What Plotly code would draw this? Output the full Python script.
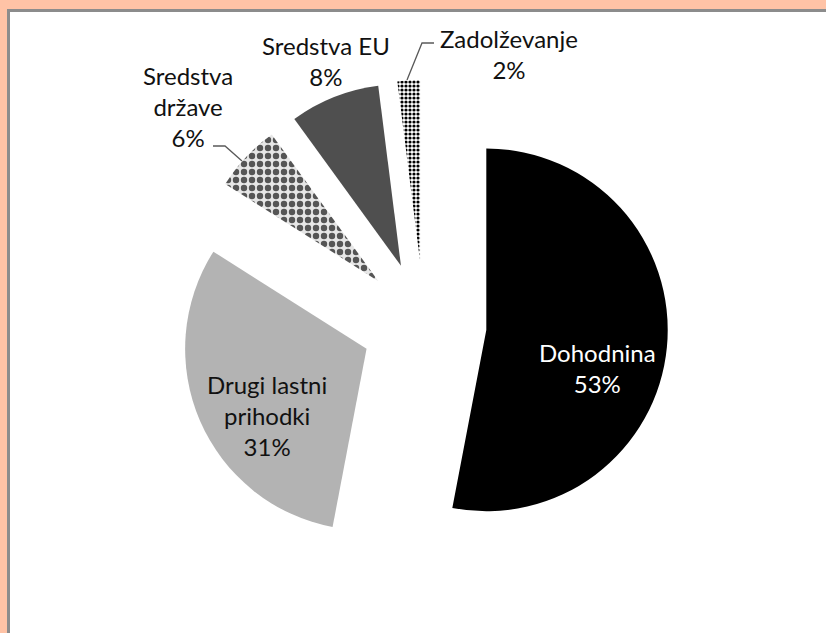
import plotly.graph_objects as go

# ---- data ----
labels = ["Dohodnina", "Drugi lastni prihodki", "Sredstva države", "Sredstva EU", "Zadolževanje"]
values = [53, 31, 6, 8, 2]
label_lines = ["Dohodnina", "Drugi lastni<br>prihodki", "Sredstva<br>države", "Sredstva EU", "Zadolževanje"]

# ---- styling ----
W, H = 826, 633
colors = ["#000000", "#B3B3B3", "#FFFFFF", "#4F4F4F", "#FFFFFF"]
pat_shape = ["", "", ".", "", "."]
pat_fg = ["#000000", "#B3B3B3", "#555555", "#4F4F4F", "#000000"]
pat_bg = ["#000000", "#B3B3B3", "#E6E6E6", "#4F4F4F", "#FFFFFF"]
pull = 0.345
FONT = "Lato, 'Noto Sans', sans-serif"

# pie box (pixels)
cx, cy, half = 424, 324, 244
dom_x = [(cx - half) / W, (cx + half) / W]
dom_y = [1 - (cy + half) / H, 1 - (cy - half) / H]

fig = go.Figure(go.Pie(
    labels=labels,
    values=values,
    sort=False,
    direction="clockwise",
    rotation=0,
    pull=[pull] * len(values),
    textinfo="none",
    hoverinfo="label+percent",
    marker=dict(
        colors=colors,
        line=dict(width=0),
        pattern=dict(shape=pat_shape, fgcolor=pat_fg, bgcolor=pat_bg,
                     size=[8, 8, 8, 8, 4], solidity=[0.3, 0.3, 0.5, 0.3, 0.5]),
    ),
    domain=dict(x=dom_x, y=dom_y),
    showlegend=False,
))

total = sum(values)
pcts = [f"{round(100 * v / total)}%" for v in values]

# label placements (pixel centres) and colours
label_pos = [(597, 368), (267, 415), (188, 107), (326, 61), (509, 54)]
label_col = ["#FFFFFF", "#111111", "#111111", "#111111", "#111111"]

annotations = []
for txt, p, (px, py), col in zip(label_lines, pcts, label_pos, label_col):
    annotations.append(dict(
        text=f"{txt}<br>{p}", x=px / W, y=1 - py / H, xref="paper", yref="paper",
        xanchor="center", yanchor="middle", showarrow=False,
        font=dict(family=FONT, size=24, color=col), align="center",
    ))

def ppath(pts):
    return "M " + " L ".join(f"{x / W},{1 - y / H}" for x, y in pts)

shapes = [
    # white chart area with grey frame
    dict(type="rect", xref="paper", yref="paper", x0=8.5 / W, x1=1.1, y0=-0.1, y1=1 - 10.5 / H,
         fillcolor="#FFFFFF", line=dict(color="#8C8C8C", width=3), layer="below"),
    # leader lines
    dict(type="path", xref="paper", yref="paper", path=ppath([(213, 146), (225, 146), (242, 161)]),
         line=dict(color="#595959", width=1.3)),
    dict(type="path", xref="paper", yref="paper", path=ppath([(434, 43), (422, 43), (407, 80)]),
         line=dict(color="#595959", width=1.3)),
]

fig.update_layout(
    width=W, height=H,
    margin=dict(l=0, r=0, t=0, b=0),
    paper_bgcolor="#FFC3A6",
    plot_bgcolor="#FFFFFF",
    annotations=annotations,
    shapes=shapes,
    font=dict(family=FONT),
)

fig.write_html("out.html", config={"displayModeBar": False},
               post_script="document.body.style.margin='0';document.body.style.overflow='hidden';")
